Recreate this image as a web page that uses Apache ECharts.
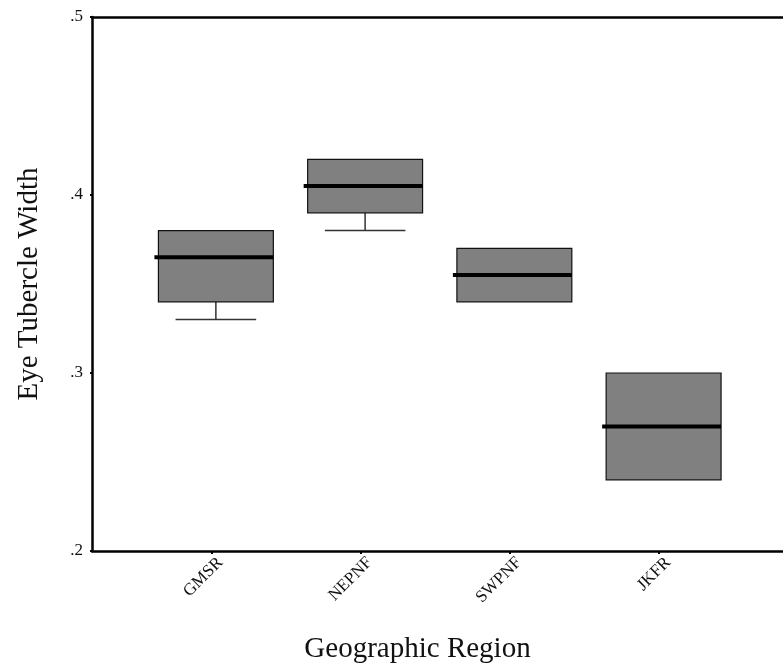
<!DOCTYPE html>
<html>
<head>
<meta charset="utf-8">
<script src="https://cdn.jsdelivr.net/npm/echarts@6/dist/echarts.min.js"></script>
<style>
  html, body { margin: 0; padding: 0; background: #fff; }
  #chart { width: 783px; height: 663px; }
</style>
</head>
<body>
<div id="chart"></div>
<script>
// regions and box stats
var regions = ["GMSR", "NEPNF", "SWPNF", "JKFR"];
var lowWhisker = [0.33, 0.38, 0.34, 0.24];
var q1 = [0.34, 0.39, 0.34, 0.24];
var medians = [0.365, 0.405, 0.355, 0.27];
var q3 = [0.38, 0.42, 0.37, 0.30];
var highWhisker = [0.38, 0.42, 0.37, 0.30];
var yTicks = [0.2, 0.3, 0.4, 0.5];

var serif = "'Liberation Serif', 'DejaVu Serif', serif";

var boxData = regions.map(function (r, i) {
  return [i, lowWhisker[i], q1[i], medians[i], q3[i], highWhisker[i]];
});

function renderBox(params, api) {
  var x = api.value(0);
  var boxW = api.size([0.77, 0])[0];
  var capW = api.size([0.54, 0])[0];
  var pMin = api.coord([x, api.value(1)]);
  var pQ1 = api.coord([x, api.value(2)]);
  var pMed = api.coord([x, api.value(3)]);
  var pQ3 = api.coord([x, api.value(4)]);
  var pMax = api.coord([x, api.value(5)]);
  var cx = pQ1[0];
  var kids = [];
  var wStyle = { stroke: "#333", lineWidth: 1.5 };
  if (pMin[1] - pQ1[1] > 1) {
    kids.push({ type: "line", shape: { x1: cx, y1: pQ1[1], x2: cx, y2: pMin[1] }, style: wStyle });
    kids.push({ type: "line", shape: { x1: cx - capW / 2, y1: pMin[1], x2: cx + capW / 2, y2: pMin[1] }, style: wStyle });
  }
  if (pQ3[1] - pMax[1] > 1) {
    kids.push({ type: "line", shape: { x1: cx, y1: pQ3[1], x2: cx, y2: pMax[1] }, style: wStyle });
    kids.push({ type: "line", shape: { x1: cx - capW / 2, y1: pMax[1], x2: cx + capW / 2, y2: pMax[1] }, style: wStyle });
  }
  kids.push({
    type: "rect",
    shape: { x: cx - boxW / 2, y: pQ3[1], width: boxW, height: pQ1[1] - pQ3[1] },
    style: { fill: "#808080", stroke: "#111", lineWidth: 1.2 }
  });
  kids.push({
    type: "line",
    shape: { x1: cx - boxW / 2 - 4, y1: pMed[1], x2: cx + boxW / 2, y2: pMed[1] },
    style: { stroke: "#000", lineWidth: 4 }
  });
  return { type: "group", children: kids };
}

var chart = echarts.init(document.getElementById("chart"));
chart.setOption({
  animation: false,
  grid: { left: 92, right: 0, top: 17, bottom: 112, containLabel: false, outerBoundsMode: "none" },
  xAxis: [
    {
      type: "value",
      min: -0.83,
      max: 3.8,
      position: "bottom",
      name: "Geographic Region",
      nameLocation: "middle",
      nameGap: 84,
      nameTextStyle: { fontFamily: serif, fontSize: 29, color: "#111", padding: [0, 40, 0, 0] },
      axisLine: { show: true, onZero: false, lineStyle: { color: "#000", width: 2.5 } },
      axisTick: {
        show: true,
        customValues: [-0.03, 0.97, 1.97, 2.97],
        length: 3,
        lineStyle: { color: "#000", width: 2 }
      },
      axisLabel: {
        customValues: [0.03, 1.03, 2.03, 3.03],
        rotate: 45,
        margin: 9,
        fontFamily: serif,
        fontSize: 17,
        color: "#111",
        formatter: function (v) {
          return regions[Math.round(v)];
        }
      },
      splitLine: { show: false }
    },
    {
      type: "value",
      min: -0.83,
      max: 3.8,
      position: "top",
      axisLine: { show: true, onZero: false, lineStyle: { color: "#000", width: 2.5 } },
      axisTick: { show: false },
      axisLabel: { show: false },
      splitLine: { show: false }
    }
  ],
  yAxis: {
    type: "value",
    min: 0.2,
    max: 0.5,
    interval: 0.1,
    name: "Eye Tubercle Width",
    nameLocation: "middle",
    nameGap: 48,
    nameTextStyle: { fontFamily: serif, fontSize: 29, color: "#111" },
    axisLine: { show: true, onZero: false, lineStyle: { color: "#000", width: 2.5 } },
    axisTick: { show: true, length: 2, lineStyle: { color: "#000", width: 2 } },
    axisLabel: {
      margin: 9,
      fontFamily: serif,
      fontSize: 17,
      color: "#111",
      formatter: function (v) {
        var t = yTicks.filter(function (k) { return Math.abs(k - v) < 1e-6; })[0];
        return t === undefined ? "" : String(t).replace(/^0/, "");
      }
    },
    splitLine: { show: false }
  },
  series: [
    {
      type: "custom",
      xAxisIndex: 0,
      renderItem: renderBox,
      encode: { x: 0, y: [1, 2, 3, 4, 5] },
      data: boxData,
      silent: true
    }
  ]
});
</script>
</body>
</html>
